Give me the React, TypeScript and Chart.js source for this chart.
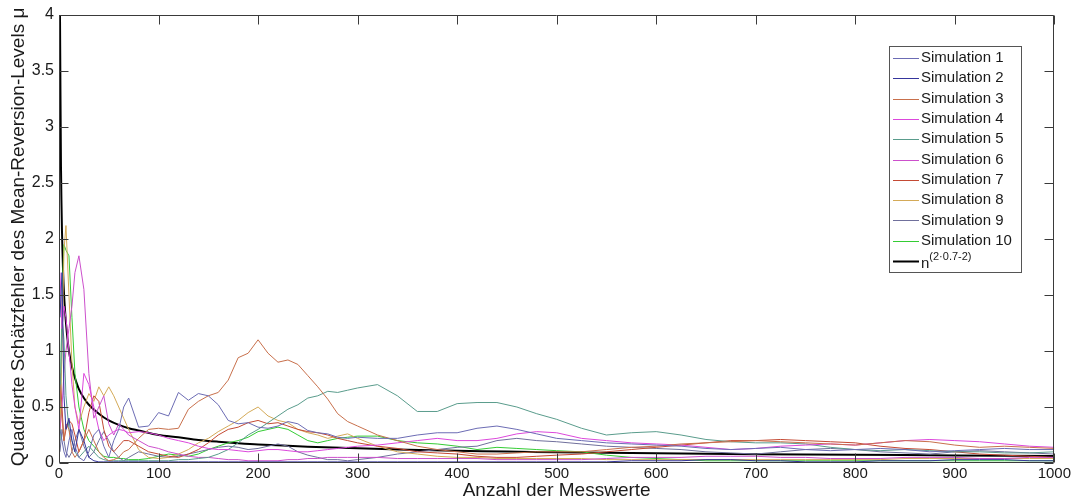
import { useEffect, useRef } from "react";
import { Chart, registerables } from "chart.js";

Chart.register(...registerables);

// Sample positions (Anzahl der Messwerte)
const X_VALUES = [
  1, 3, 5, 7, 10, 13, 16, 20, 25, 30, 35, 40, 45, 50, 55, 60, 65, 70,
  80, 90, 100, 110, 120, 130, 140, 150, 160, 170, 180, 190, 200, 210, 220, 230, 240, 250, 260, 270, 280, 290, 300,
  320, 340, 360, 380, 400, 420, 440, 460, 480, 500,
  525, 550, 575, 600, 625, 650, 675, 700, 725, 750, 775, 800, 825, 850, 875, 900, 925, 950, 975, 1000,
];

const SIM_1 = [
  0.3, 0.2, 0.1, 0.05, 0.2, 0.3, 0.15, 0.05, 0.02, 0.1, 0.25, 0.3, 0.15, 0.05, 0.2, 0.3, 0.5, 0.58,
  0.32, 0.33, 0.45, 0.42, 0.63, 0.56, 0.62, 0.6, 0.52, 0.38, 0.35, 0.36, 0.32, 0.31, 0.33, 0.37, 0.35, 0.29, 0.27, 0.26, 0.23, 0.22, 0.23,
  0.22, 0.22, 0.25, 0.27, 0.27, 0.31, 0.33, 0.3, 0.26, 0.22,
  0.2, 0.18, 0.17, 0.16, 0.15, 0.13, 0.12, 0.13, 0.14, 0.12, 0.11, 0.12, 0.13, 0.12, 0.1, 0.11, 0.12, 0.13, 0.12, 0.12,
];
const SIM_2 = [
  1.3, 1.7, 0.6, 0.3, 0.4, 0.2, 0.1, 0.3, 0.2, 0.05, 0.02, 0.01, 0.01, 0.01, 0.01, 0.01, 0.01, 0.01,
  0.01, 0.01, 0.01, 0.01, 0.01, 0.01, 0.01, 0.01, 0.01, 0.01, 0.01, 0.01, 0.01, 0.01, 0.01, 0.01, 0.01, 0.01, 0.01, 0.01, 0.01, 0.01, 0.01,
  0.01, 0.01, 0.01, 0.01, 0.01, 0.01, 0.01, 0.01, 0.01, 0.01,
  0.01, 0.01, 0.02, 0.02, 0.02, 0.03, 0.03, 0.02, 0.02, 0.01, 0.01, 0.01, 0.02, 0.02, 0.02, 0.03, 0.03, 0.03, 0.02, 0.02,
];
const SIM_3 = [
  0.7, 0.4, 0.2, 0.35, 0.3, 0.1, 0.05, 0.1, 0.2, 0.3, 0.2, 0.1, 0.05, 0.02, 0.03, 0.05, 0.1, 0.12,
  0.22, 0.3, 0.31, 0.3, 0.31, 0.48, 0.55, 0.6, 0.63, 0.74, 0.94, 0.98, 1.1, 0.98, 0.9, 0.92, 0.88, 0.78, 0.68, 0.57, 0.44, 0.37, 0.33,
  0.25, 0.2, 0.15, 0.12, 0.1, 0.08, 0.08, 0.09, 0.1, 0.1,
  0.1, 0.12, 0.14, 0.15, 0.17, 0.18, 0.19, 0.2, 0.19, 0.18, 0.17, 0.16, 0.18, 0.2, 0.19, 0.16, 0.14, 0.15, 0.14, 0.13,
];
const SIM_4 = [
  1.7, 1.2, 1.4, 1.3, 1.0, 0.7, 0.5, 0.3, 0.8, 0.7, 0.5, 0.3, 0.2, 0.25, 0.28, 0.3, 0.29, 0.27,
  0.28, 0.27, 0.25, 0.22, 0.2, 0.18, 0.15, 0.13, 0.12, 0.12, 0.11, 0.1, 0.11, 0.12, 0.12, 0.11, 0.1, 0.1, 0.11, 0.12, 0.13, 0.14, 0.15,
  0.16, 0.18, 0.2, 0.22, 0.2, 0.2, 0.22, 0.26, 0.28, 0.27,
  0.22, 0.2, 0.18, 0.17, 0.16, 0.14, 0.12, 0.13, 0.15, 0.16, 0.17, 0.16, 0.18, 0.2, 0.21, 0.2, 0.19, 0.17, 0.15, 0.14,
];
const SIM_5 = [
  0.5, 1.3, 1.1, 0.6, 0.3, 0.2, 0.1, 0.05, 0.1, 0.15, 0.1, 0.05, 0.03, 0.02, 0.02, 0.02, 0.02, 0.02,
  0.02, 0.02, 0.02, 0.02, 0.03, 0.03, 0.04, 0.05, 0.08, 0.12, 0.18, 0.25, 0.3, 0.36, 0.42, 0.48, 0.52, 0.58, 0.6, 0.64, 0.63, 0.65, 0.67,
  0.7, 0.6, 0.46, 0.46, 0.53, 0.54, 0.54, 0.5, 0.44, 0.39,
  0.31, 0.25, 0.27, 0.28, 0.25, 0.21, 0.19, 0.18, 0.18, 0.17, 0.14, 0.12, 0.11, 0.12, 0.11, 0.1, 0.1, 0.09, 0.09, 0.1,
];
const SIM_6 = [
  0.3, 0.5, 0.8, 1.0, 1.2, 1.4, 1.7, 1.85, 1.55, 0.8, 0.4, 0.5, 0.6, 0.35, 0.25, 0.35, 0.3, 0.25,
  0.2, 0.15, 0.13, 0.1, 0.08, 0.06, 0.05, 0.05, 0.04, 0.03, 0.03, 0.02, 0.02, 0.02, 0.02, 0.03, 0.03, 0.04, 0.04, 0.05, 0.05, 0.05, 0.05,
  0.05, 0.04, 0.04, 0.04, 0.04, 0.04, 0.03, 0.03, 0.03, 0.03,
  0.03, 0.04, 0.05, 0.05, 0.05, 0.06, 0.06, 0.06, 0.05, 0.05, 0.04, 0.04, 0.04, 0.05, 0.05, 0.05, 0.04, 0.04, 0.05, 0.05,
];
const SIM_7 = [
  0.8, 0.5, 0.2, 0.3, 0.38, 0.35, 0.25, 0.1, 0.2, 0.45, 0.6, 0.55, 0.3, 0.15, 0.1, 0.15, 0.2, 0.2,
  0.15, 0.1, 0.08, 0.06, 0.05, 0.08, 0.12, 0.18, 0.25, 0.3, 0.32, 0.36, 0.38, 0.35, 0.36, 0.33, 0.3, 0.28, 0.27, 0.25, 0.22, 0.2, 0.18,
  0.15, 0.13, 0.1, 0.09, 0.08, 0.06, 0.05, 0.05, 0.06, 0.07,
  0.08, 0.1, 0.12, 0.14, 0.16, 0.18, 0.2, 0.2, 0.21, 0.2, 0.19, 0.18, 0.15, 0.13, 0.12, 0.1, 0.08, 0.07, 0.06, 0.05,
];
const SIM_8 = [
  0.3, 1.0, 1.9, 2.12, 1.5, 0.9, 0.5, 0.35, 0.5, 0.62, 0.55, 0.68, 0.6, 0.68, 0.6, 0.5, 0.4, 0.3,
  0.12, 0.05, 0.04, 0.05, 0.08, 0.12, 0.18, 0.22, 0.28, 0.33, 0.38, 0.45, 0.5, 0.42, 0.38, 0.36, 0.3, 0.27, 0.25, 0.22, 0.24, 0.26, 0.22,
  0.15, 0.1, 0.08, 0.06, 0.05, 0.05, 0.04, 0.04, 0.04, 0.04,
  0.04, 0.03, 0.03, 0.03, 0.03, 0.03, 0.03, 0.03, 0.03, 0.03, 0.03, 0.03, 0.03, 0.04, 0.04, 0.04, 0.04, 0.04, 0.04, 0.04,
];
const SIM_9 = [
  0.1, 0.3, 0.2, 0.1, 0.05, 0.1, 0.2, 0.3, 0.15, 0.05, 0.1, 0.2, 0.28, 0.2, 0.1, 0.05, 0.02, 0.05,
  0.1, 0.08, 0.06, 0.05, 0.06, 0.08, 0.1, 0.12, 0.14, 0.15, 0.14, 0.12, 0.13, 0.15, 0.17, 0.15, 0.1, 0.07, 0.05, 0.03, 0.03, 0.02, 0.03,
  0.05, 0.08, 0.1, 0.12, 0.14, 0.15, 0.2, 0.22, 0.2, 0.19,
  0.17, 0.15, 0.14, 0.13, 0.12, 0.1, 0.09, 0.08, 0.1, 0.12, 0.13, 0.12, 0.1, 0.09, 0.08, 0.1, 0.11, 0.1, 0.09, 0.08,
];
const SIM_10 = [
  0.2, 1.5, 1.95, 1.9, 1.85, 1.3, 0.8, 0.5, 0.3, 0.2, 0.15, 0.1, 0.06, 0.05, 0.05, 0.04, 0.04, 0.03,
  0.03, 0.04, 0.06, 0.08, 0.07, 0.06, 0.08, 0.12, 0.15, 0.18, 0.2, 0.23, 0.28, 0.3, 0.32, 0.3, 0.25, 0.2, 0.18, 0.2, 0.22, 0.23, 0.24,
  0.24, 0.2, 0.18, 0.17, 0.15, 0.12, 0.14, 0.13, 0.12, 0.11,
  0.1, 0.07, 0.05, 0.04, 0.03, 0.02, 0.02, 0.02, 0.02, 0.02, 0.02, 0.02, 0.02, 0.02, 0.02, 0.02, 0.02, 0.02, 0.02, 0.02,
];

// Reference curve n^(2·0.7-2)
const REF_X = [1, 2, 3, 4, 5, 7, 10, 13, 16, 20, 25, 30, 40, 50, 60, 70, 80, 100, 120, 140, 160, 180, 200, 250, 300, 350, 400, 450, 500, 600, 700, 800, 900, 1000];
const REF_Y = [4.0, 2.64, 2.07, 1.74, 1.52, 1.25, 1.0, 0.86, 0.76, 0.66, 0.58, 0.52, 0.44, 0.38, 0.34, 0.31, 0.29, 0.25, 0.23, 0.206, 0.19, 0.177, 0.166, 0.146, 0.131, 0.119, 0.11, 0.102, 0.096, 0.086, 0.078, 0.073, 0.068, 0.063];

const SERIES = [SIM_1, SIM_2, SIM_3, SIM_4, SIM_5, SIM_6, SIM_7, SIM_8, SIM_9, SIM_10];
const SERIES_LABELS = [
  "Simulation 1", "Simulation 2", "Simulation 3", "Simulation 4", "Simulation 5",
  "Simulation 6", "Simulation 7", "Simulation 8", "Simulation 9", "Simulation 10",
];
const SERIES_COLORS = [
  "#6c6cb4", "#35359c", "#c8704c", "#dc48dc", "#5a9c8c",
  "#cc50cc", "#c44a34", "#d4aa58", "#70709c", "#34cc34",
];
const REF_LABEL = "n^(2·0.7-2)";
const X_TITLE = "Anzahl der Messwerte";
const Y_TITLE = "Quadrierte Schätzfehler des Mean-Reversion-Levels μ";

const FONT = '"Liberation Sans", Arial, Helvetica, sans-serif';

export default function App() {
  const ref = useRef<HTMLCanvasElement>(null);

  useEffect(() => {
    document.body.style.margin = "0";
    const canvas = ref.current;
    if (!canvas) return;

    const datasets: any[] = SERIES.map((ys, i) => ({
      label: SERIES_LABELS[i],
      data: X_VALUES.map((x, j) => ({ x, y: ys[j] })),
      borderColor: SERIES_COLORS[i],
      borderWidth: 1,
      pointRadius: 0,
      tension: 0,
      fill: false,
    }));
    datasets.push({
      label: REF_LABEL,
      data: REF_X.map((x, j) => ({ x, y: REF_Y[j] })),
      borderColor: "#000000",
      borderWidth: 2,
      pointRadius: 0,
      tension: 0.3,
      fill: false,
    });

    const framePlugin = {
      id: "matlabFrame",
      afterDraw(chart: any) {
        const { ctx, chartArea: a, scales } = chart;
        const xs = scales.x;
        const ys = scales.y;
        ctx.save();
        ctx.strokeStyle = "#3a3a3a";
        ctx.lineWidth = 1;
        ctx.beginPath();
        const L = Math.round(a.left) + 0.5;
        const R = Math.round(a.right) - 0.5;
        const T = Math.round(a.top) + 0.5;
        const B = Math.round(a.bottom) - 0.5;
        xs.ticks.forEach((t: any) => {
          const p = Math.round(xs.getPixelForValue(t.value)) + 0.5;
          ctx.moveTo(p, B);
          ctx.lineTo(p, B - 9);
          ctx.moveTo(p, T);
          ctx.lineTo(p, T + 9);
        });
        ys.ticks.forEach((t: any) => {
          const p = Math.round(ys.getPixelForValue(t.value)) + 0.5;
          ctx.moveTo(L, p);
          ctx.lineTo(L + 9, p);
          ctx.moveTo(R, p);
          ctx.lineTo(R - 9, p);
        });
        ctx.rect(L, T, R - L, B - T);
        ctx.stroke();

        // axis titles
        ctx.fillStyle = "#1a1a1a";
        ctx.font = `19px ${FONT}`;
        ctx.textAlign = "center";
        ctx.textBaseline = "middle";
        ctx.fillText(X_TITLE, (a.left + a.right) / 2, 491);
        ctx.save();
        ctx.translate(19, (a.top + a.bottom) / 2 - 2);
        ctx.rotate(-Math.PI / 2);
        ctx.fillText(Y_TITLE, 0, 0);
        ctx.restore();

        // legend
        const bx = 889.5, by = 46.5, bw = 132, bh = 226;
        ctx.fillStyle = "#ffffff";
        ctx.fillRect(bx, by, bw, bh);
        ctx.strokeStyle = "#555555";
        ctx.lineWidth = 1;
        ctx.strokeRect(bx, by, bw, bh);
        ctx.textAlign = "left";
        ctx.textBaseline = "middle";
        chart.data.datasets.forEach((ds: any, i: number) => {
          const y = 58 + i * 20.3;
          ctx.strokeStyle = ds.borderColor;
          ctx.lineWidth = ds.borderWidth;
          ctx.beginPath();
          ctx.moveTo(893, Math.round(y) + 0.5);
          ctx.lineTo(919, Math.round(y) + 0.5);
          ctx.stroke();
          ctx.fillStyle = "#1a1a1a";
          const parts = String(ds.label).split("^");
          ctx.font = `15px ${FONT}`;
          if (parts.length === 2) {
            ctx.fillText(parts[0], 921, y + 3);
            const w = ctx.measureText(parts[0]).width;
            ctx.font = `11px ${FONT}`;
            ctx.fillText(parts[1], 921 + w, y - 4);
          } else {
            ctx.fillText(parts[0], 921, y);
          }
        });
        ctx.restore();
      },
    };

    const chart = new Chart(canvas, {
      type: "line",
      data: { datasets },
      options: {
        animation: false,
        responsive: false,
        maintainAspectRatio: false,
        events: [],
        layout: { padding: { top: 15, right: 17, left: 0, bottom: 0 } },
        plugins: { legend: { display: false }, tooltip: { enabled: false } },
        scales: {
          x: {
            type: "linear",
            min: 0,
            max: 1000,
            grid: { display: false, drawTicks: false },
            border: { display: false },
            ticks: {
              stepSize: 100,
              padding: 2,
              color: "#1a1a1a",
              font: { family: FONT, size: 15 },
              maxRotation: 0,
              callback: (v: any) => String(v),
            },
            afterFit: (s: any) => { s.height = 36; },
          },
          y: {
            type: "linear",
            min: 0,
            max: 4,
            grid: { display: false, drawTicks: false },
            border: { display: false },
            ticks: {
              stepSize: 0.5,
              padding: 5,
              color: "#1a1a1a",
              font: { family: FONT, size: 16 },
              callback: (v: any) => String(v),
            },
            afterFit: (s: any) => { s.width = 59; },
          },
        },
      },
      plugins: [framePlugin],
    } as any);

    return () => chart.destroy();
  }, []);

  return (
    <div style={{ width: 1073, height: 499, position: "relative", background: "#fff" }}>
      <canvas ref={ref} width={1073} height={499} style={{ display: "block" }} />
    </div>
  );
}
